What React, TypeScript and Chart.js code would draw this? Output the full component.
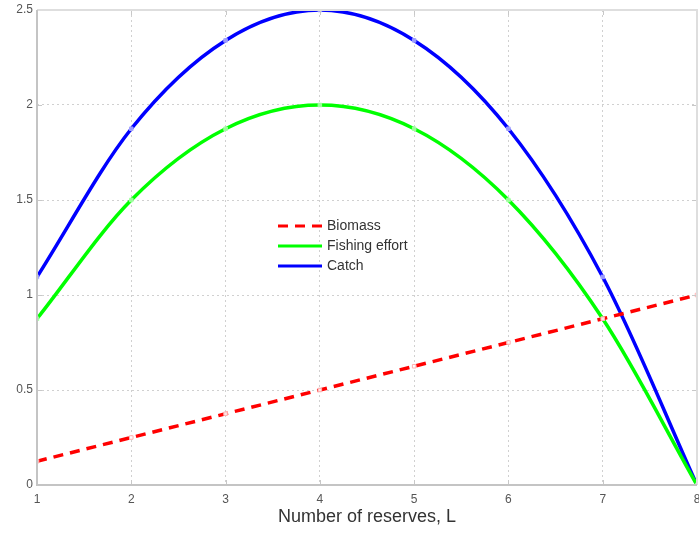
import React, { useEffect, useRef } from "react";
import { Chart, registerables } from "chart.js";

Chart.register(...registerables);

const reserves = [1, 2, 3, 4, 5, 6, 7, 8];
const biomass = [0.125, 0.25, 0.375, 0.5, 0.625, 0.75, 0.875, 1.0];
const fishingEffort = [0.875, 1.5, 1.875, 2.0, 1.875, 1.5, 0.875, 0.0];
const catchValues = [1.095, 1.875, 2.34, 2.5, 2.34, 1.875, 1.095, 0.0];
const yTicks = [0, 0.5, 1, 1.5, 2, 2.5];
const seriesNames = ["Biomass", "Fishing effort", "Catch"];
const xTitle = "Number of reserves, L";

const FONT = "'Liberation Sans', Arial, sans-serif";

const boxPlugin = {
  id: "boxPlugin",
  afterDraw(chart: any) {
    const { ctx, chartArea: a, scales } = chart;
    const x = scales.x;
    const y = scales.y;
    ctx.save();
    ctx.strokeStyle = "#c8c8c8";
    ctx.lineWidth = 1;
    ctx.setLineDash([]);
    const tl = 5;
    reserves.forEach((v) => {
      const px = Math.round(x.getPixelForValue(v)) + 0.5;
      ctx.beginPath();
      ctx.moveTo(px, a.bottom);
      ctx.lineTo(px, a.bottom - tl);
      ctx.moveTo(px, a.top);
      ctx.lineTo(px, a.top + tl);
      ctx.stroke();
    });
    yTicks.forEach((v) => {
      const py = Math.round(y.getPixelForValue(v)) + 0.5;
      ctx.beginPath();
      ctx.moveTo(a.left, py);
      ctx.lineTo(a.left + tl, py);
      ctx.moveTo(a.right, py);
      ctx.lineTo(a.right - tl, py);
      ctx.stroke();
    });
    ctx.lineWidth = 2;
    ctx.strokeStyle = "#dedede";
    ctx.beginPath();
    ctx.moveTo(a.left, a.top);
    ctx.lineTo(a.right, a.top);
    ctx.lineTo(a.right, a.bottom);
    ctx.stroke();
    ctx.strokeStyle = "#c4c4c4";
    ctx.beginPath();
    ctx.moveTo(a.left, a.top);
    ctx.lineTo(a.left, a.bottom);
    ctx.lineTo(a.right, a.bottom);
    ctx.stroke();

    // x title
    ctx.fillStyle = "#333";
    ctx.font = `18px ${FONT}`;
    ctx.textAlign = "center";
    ctx.textBaseline = "middle";
    ctx.fillText(xTitle, (a.left + a.right) / 2, 517);

    // legend
    const ds = chart.data.datasets;
    const ys = [226, 246, 266];
    ds.forEach((d: any, i: number) => {
      ctx.save();
      ctx.strokeStyle = d.borderColor;
      ctx.lineWidth = 3;
      ctx.setLineDash(d.borderDash || []);
      ctx.beginPath();
      ctx.moveTo(278, ys[i]);
      ctx.lineTo(322, ys[i]);
      ctx.stroke();
      ctx.restore();
      ctx.fillStyle = "#333";
      ctx.font = `14px ${FONT}`;
      ctx.textAlign = "left";
      ctx.textBaseline = "middle";
      ctx.fillText(seriesNames[i], 327, ys[i]);
    });
    ctx.restore();
  },
};

export default function App() {
  const ref = useRef<HTMLCanvasElement>(null);
  useEffect(() => {
    document.body.style.margin = "0";
    const mk = (data: number[]) => reserves.map((r, i) => ({ x: r, y: data[i] }));
    const chart = new Chart(ref.current!, {
      type: "line",
      data: {
        datasets: [
          {
            label: seriesNames[0],
            data: mk(biomass),
            borderColor: "#ff0000",
            borderWidth: 3.5,
            borderDash: [10, 7],
            pointRadius: 2.5,
            pointStyle: "rect",
            pointBackgroundColor: "rgba(255,255,255,0.9)",
            pointBorderColor: "#ffb0b0",
            pointBorderWidth: 1,
          },
          {
            label: seriesNames[1],
            data: mk(fishingEffort),
            borderColor: "#00ff00",
            borderWidth: 3.5,
            cubicInterpolationMode: "monotone",
            pointRadius: 2.5,
            pointStyle: "rect",
            pointBackgroundColor: "rgba(255,255,255,0.6)",
            pointBorderColor: "#a0ffa0",
            pointBorderWidth: 1,
          },
          {
            label: seriesNames[2],
            data: mk(catchValues),
            borderColor: "#0000ff",
            borderWidth: 3.5,
            cubicInterpolationMode: "monotone",
            pointRadius: 2.5,
            pointStyle: "rect",
            pointBackgroundColor: "rgba(255,255,255,0.6)",
            pointBorderColor: "#a0a0ff",
            pointBorderWidth: 1,
          },
        ],
      },
      options: {
        responsive: false,
        animation: false,
        layout: { autoPadding: false, padding: { left: 0, right: 2, top: 10, bottom: 0 } },
        plugins: { legend: { display: false }, tooltip: { enabled: false } },
        scales: {
          x: {
            type: "linear",
            min: 1,
            max: 8,
            afterFit: (s: any) => {
              s.height = 49;
              s.paddingLeft = 0;
              s.paddingRight = 0;
            },
            afterBuildTicks: (s: any) => {
              s.ticks = reserves.map((v) => ({ value: v }));
            },
            grid: { color: "#d0d0d0", lineWidth: 1, drawTicks: false },
            border: { display: false, dash: [2, 3] },
            ticks: {
              padding: 7,
              color: "#555",
              font: { family: FONT, size: 12 },
              maxRotation: 0,
              callback: (v: any) => String(v),
            },
          },
          y: {
            min: 0,
            max: 2.5,
            afterFit: (s: any) => {
              s.width = 37;
              s.paddingTop = 0;
              s.paddingBottom = 0;
            },
            afterBuildTicks: (s: any) => {
              s.ticks = yTicks.map((v) => ({ value: v }));
            },
            grid: { color: "#d0d0d0", lineWidth: 1, drawTicks: false },
            border: { display: false, dash: [2, 3] },
            ticks: {
              padding: 4,
              color: "#555",
              font: { family: FONT, size: 12 },
              callback: (v: any) => String(v),
            },
          },
        },
      },
      plugins: [boxPlugin],
    } as any);
    return () => chart.destroy();
  }, []);
  return (
    <div style={{ position: "absolute", left: 0, top: 0, width: 699, height: 534 }}>
      <canvas ref={ref} width={699} height={534} style={{ display: "block" }} />
    </div>
  );
}
